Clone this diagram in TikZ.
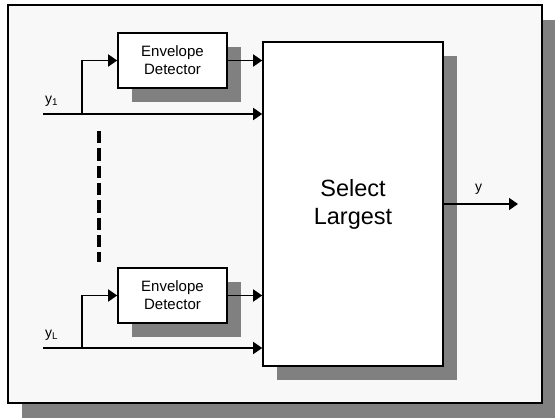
\documentclass[tikz,border=0pt]{standalone}
\usepackage{fontspec}
\setmainfont{Liberation Sans}
\usetikzlibrary{shadows,arrows.meta}
\definecolor{bgfill}{HTML}{F8F8F8}
\definecolor{shadowgray}{HTML}{808080}
\tikzset{
  shad/.style={drop shadow={shadow xshift=#1pt, shadow yshift=-#1pt, fill=shadowgray, opacity=1}},
  blockbox/.style={draw=black, line width=1.6pt, fill=white, align=center, inner sep=0pt},
  edbox/.style={blockbox, minimum width=109pt, minimum height=55pt, font=\fontsize{15}{18}\selectfont, shad=14},
  selbox/.style={blockbox, minimum width=180pt, minimum height=324pt, font=\fontsize{23.5}{28}\selectfont, shad=14},
  wire/.style={line width=1.6pt},
  arr/.style={wire, -{Triangle[length=9pt,width=12pt]}},
  lbl/.style={font=\fontsize{14}{16}\selectfont, inner sep=0pt}
}
\begin{document}
\begin{tikzpicture}[x=1pt,y=-1pt]
\useasboundingbox (0,0) rectangle (555,420);
% outer frame
\draw[line width=1.6pt, fill=bgfill, drop shadow={shadow xshift=14pt, shadow yshift=-15pt, fill=shadowgray, opacity=1}] (8,5) rectangle (542,403);
% blocks
\node[edbox] (ed1) at (172.5,60.5) {Envelope\\Detector};
\node[edbox] (ed2) at (172.5,295.5) {Envelope\\Detector};
\node[selbox] (sel) at (353,204) {Select\\Largest};
% inputs
\coordinate (in1) at (43,114);
\coordinate (inL) at (43,348);
\coordinate (b1) at (82,114);
\coordinate (bL) at (82,348);
\coordinate (out) at (518,204);
\draw[wire] (in1) -- (b1);
\draw[arr] (b1) -- (sel.west |- b1);
\draw[arr] (b1) |- (ed1.west);
\draw[arr] (ed1.east) -- (sel.west |- ed1.east);
\draw[wire] (inL) -- (bL);
\draw[arr] (bL) -- (sel.west |- bL);
\draw[arr] (bL) |- (ed2.west);
\draw[arr] (ed2.east) -- (sel.west |- ed2.east);
\draw[arr] (sel.east |- out) -- (out);
% dashed ellipsis
\coordinate (d1) at (99,131);
\coordinate (d2) at (99,262);
\draw[line width=4.2pt, dash pattern=on 12.5pt off 4.8pt] (d1) -- (d2);
% labels
\node[lbl, anchor=base west] (l1) at (45,103) {y\textsubscript{1}};
\node[lbl, anchor=base west] (lL) at (45,337) {y\textsubscript{L}};
\node[lbl, anchor=base west] (ly) at (475,191) {y};
\end{tikzpicture}
\end{document}
